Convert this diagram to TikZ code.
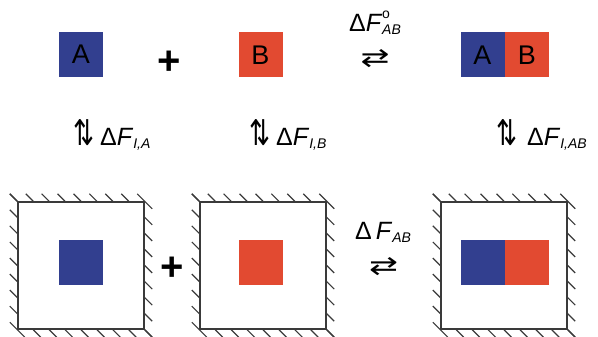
\documentclass[tikz,border=0pt]{standalone}
\usepackage{fontspec}
\setmainfont{Liberation Sans}
\newfontfamily\dejavu{DejaVu Sans}
\usepackage{tikz}
\usetikzlibrary{positioning,calc}
\definecolor{molblue}{HTML}{323F8F}
\definecolor{molred}{HTML}{E24A31}
\definecolor{wallgray}{HTML}{3A3A3A}
\newcommand{\updn}{\resizebox{21pt}{26pt}{\dejavu ⇅}}
\newcommand{\eqarr}{\resizebox{29pt}{17pt}{\dejavu ⇄}}
\newcommand{\subtxt}[1]{\raisebox{-3pt}{\fontsize{14}{14}\selectfont\textit{#1}}}
\tikzset{
  molbox/.style={
    rectangle, inner sep=0pt, minimum width=44pt, minimum height=45pt,
    font=\fontsize{27}{27}\selectfont
  },
  mola/.style={molbox, fill=molblue},
  molb/.style={molbox, fill=molred},
  plussign/.style={inner sep=0pt, font=\fontsize{40}{40}\selectfont\bfseries},
  freelabel/.style={inner sep=0pt, font=\fontsize{25}{25}\selectfont},
  eqsign/.style={inner sep=0pt},
  cavity/.style={
    rectangle, draw=wallgray, line width=1.4pt, fill=white,
    minimum width=126pt, minimum height=127pt, inner sep=0pt
  },
  hatch/.style={draw=wallgray, line width=1.2pt},
}
\newcommand{\wallhatch}[1]{%
  \foreach \i in {0,...,8} {
    \draw[hatch] ($(#1.north west)!\i/8!(#1.north east)$) -- ++(-7.5pt,7.5pt);
    \draw[hatch] ($(#1.south west)!\i/8!(#1.north west)$) -- ++(-7.5pt,7.5pt);
    \draw[hatch] ($(#1.north east)!\i/8!(#1.south east)$) -- ++(7.5pt,-7.5pt);
    \draw[hatch] ($(#1.south west)!\i/8!(#1.south east)$) -- ++(7.5pt,-7.5pt);
  }}

\begin{document}
\begin{tikzpicture}[x=1pt, y=-1pt]
  \useasboundingbox (0,0) rectangle (598,337);
  % free molecules
  \node[mola] (a) at (81,54.5) {A};
  \node[plussign] (plustop) at (169,63) {+};
  \node[molb] (b) at (260.5,55) {B};
  \node[freelabel] (dfab) at (375,23) {Δ\textit{F}\rlap{\raisebox{13pt}{\fontsize{14}{14}\selectfont o}}\subtxt{AB}};
  \node[eqsign] (eqtop) at (375,58.5) {\eqarr};
  \node[mola] (aba) at (482.5,55) {A};
  \node[molb, right=0pt of aba] (abb) {B};
  % insertion free energies
  \node[freelabel, anchor=base west] (dfia) at (73,146) {\updn\hspace{6pt}Δ\textit{F}\subtxt{I,A}};
  \node[freelabel, anchor=base west] (dfib) at (249,146) {\updn\hspace{6pt}Δ\textit{F}\subtxt{I,B}};
  \node[freelabel, anchor=base west] (dfiab) at (496,146) {\updn\hspace{10pt}Δ\textit{F}\subtxt{I,AB}};
  % confined molecules
  \node[cavity] (ca) at (81,265.5) {};
  \node[cavity] (cb) at (263,265.5) {};
  \node[cavity] (cab) at (504,265.5) {};
  \foreach \c in {ca,cb,cab}
    \wallhatch{\c}
  \node[mola] (ina) at (81,262.5) {};
  \node[plussign] (plusbot) at (172.5,269) {+};
  \node[molb] (inb) at (260.5,262.5) {};
  \node[freelabel] (dfbound) at (383,232) {Δ\,\textit{F}\subtxt{AB}};
  \node[eqsign] (eqbot) at (383.5,267) {\eqarr};
  \node[mola] (inaba) at (482.5,262.5) {};
  \node[molb, right=0pt of inaba] (inabb) {};
\end{tikzpicture}
\end{document}
